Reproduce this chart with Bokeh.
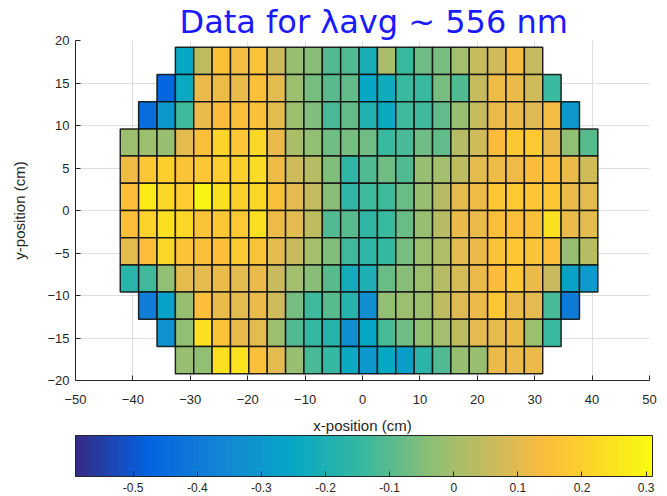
from bokeh.plotting import figure
from bokeh.models import (LinearColorMapper, ColorBar, FixedTicker, Range1d, Title,
                          ColumnDataSource, CustomJSTickFormatter)
from bokeh.embed import file_html
from bokeh.resources import INLINE

# ---- data -------------------------------------------------------------
# column centres (cm) and row centres (cm) of the measurement grid
x_cols = [-40.6, -37.4, -34.2, -31.0, -27.8, -24.6, -21.4, -18.2, -15.0, -11.8,
          -8.6, -5.4, -2.2, 1.0, 4.2, 7.4, 10.6, 13.8, 17.0, 20.2,
          23.4, 26.6, 29.8, 33.0, 36.2, 39.4]
y_rows = [17.6, 14.4, 11.2, 8.0, 4.8, 1.6, -1.6, -4.8, -8.0, -11.2, -14.4, -17.6]
cell_size = 3.2

N = None
row_p17_6 = [N, N, N, -0.25, 0.04, 0.15, 0.13, 0.16, 0.06, -0.02, -0.04, -0.11, -0.11,
             -0.21, 0.01, -0.14, -0.07, -0.06, 0.00, 0.05, 0.07, 0.13, 0.05, N, N, N]
row_p14_4 = [N, N, -0.46, -0.24, 0.11, 0.12, 0.11, 0.15, 0.10, -0.01, -0.06, -0.10, -0.09,
             -0.25, -0.23, -0.14, -0.14, -0.06, -0.11, 0.05, 0.12, 0.11, 0.07, -0.14, N, N]
row_p11_2 = [N, -0.44, -0.30, -0.13, 0.11, 0.14, 0.15, 0.15, 0.10, -0.01, -0.05, -0.12, -0.09,
             -0.19, -0.24, -0.13, -0.13, -0.09, -0.02, 0.05, 0.11, 0.11, 0.09, 0.13, -0.30, N]
row_p8_0 = [-0.01, -0.01, -0.02, 0.10, 0.15, 0.21, 0.17, 0.22, 0.11, 0.01, -0.03, -0.07, -0.06,
            -0.07, -0.14, -0.12, -0.07, -0.09, 0.03, 0.07, 0.14, 0.18, 0.18, 0.11, -0.03, -0.10]
row_p4_8 = [0.12, 0.17, 0.20, 0.16, 0.17, 0.19, 0.20, 0.23, 0.12, 0.07, 0.03, -0.05, -0.16,
            -0.11, -0.07, -0.11, -0.02, 0.00, 0.04, 0.10, 0.12, 0.12, 0.14, 0.15, 0.11, 0.07]
row_p1_6 = [0.15, 0.27, 0.22, 0.19, 0.29, 0.24, 0.20, 0.22, 0.15, 0.10, 0.05, -0.04, -0.16,
            -0.13, -0.13, -0.08, -0.02, 0.03, 0.10, 0.12, 0.17, 0.18, 0.17, 0.17, 0.11, 0.10]
row_m1_6 = [0.15, 0.21, 0.24, 0.22, 0.16, 0.17, 0.18, 0.24, 0.12, 0.10, 0.04, -0.11, -0.10,
            -0.16, -0.14, -0.08, -0.02, 0.03, 0.11, 0.11, 0.15, 0.15, 0.15, 0.24, 0.11, 0.10]
row_m4_8 = [0.10, 0.15, 0.22, 0.16, 0.15, 0.15, 0.18, 0.16, 0.10, 0.06, 0.00, -0.05, -0.13,
            -0.16, -0.15, -0.06, -0.01, 0.02, 0.10, 0.11, 0.16, 0.17, 0.16, 0.15, -0.02, 0.03]
row_m8_0 = [-0.17, -0.13, -0.03, 0.10, 0.10, 0.11, 0.10, 0.11, 0.06, 0.00, -0.04, -0.10, -0.22,
            -0.20, -0.08, -0.04, -0.01, 0.03, 0.08, 0.11, 0.14, 0.17, 0.11, 0.06, -0.27, -0.29]
row_m11_2 = [N, -0.39, -0.27, -0.02, 0.15, 0.11, 0.10, 0.11, 0.07, -0.06, -0.13, -0.10, -0.18,
             -0.33, -0.03, -0.01, -0.01, 0.04, 0.09, 0.11, 0.17, 0.11, 0.10, -0.12, -0.40, N]
row_m14_4 = [N, N, -0.32, -0.03, 0.24, 0.16, 0.11, 0.10, -0.01, -0.11, -0.15, -0.18, -0.33,
             -0.25, -0.12, -0.07, -0.03, 0.00, 0.04, 0.10, 0.10, 0.11, -0.01, -0.14, N, N]
row_m17_6 = [N, N, N, -0.02, -0.03, 0.24, 0.25, 0.15, 0.10, -0.02, -0.12, -0.15, -0.24,
             -0.30, -0.25, -0.28, -0.17, -0.11, -0.02, -0.02, 0.11, 0.11, 0.11, N, N, N]

rows = [row_p17_6, row_p14_4, row_p11_2, row_p8_0, row_p4_8, row_p1_6,
        row_m1_6, row_m4_8, row_m8_0, row_m11_2, row_m14_4, row_m17_6]

color_low, color_high = -0.59, 0.31
x_ticks = [-50, -40, -30, -20, -10, 0, 10, 20, 30, 40, 50]
y_ticks = [-20, -15, -10, -5, 0, 5, 10, 15, 20]
cb_ticks = [-0.5, -0.4, -0.3, -0.2, -0.1, 0.0, 0.1, 0.2, 0.3]
title_text = "Data for \u03bbavg ~ 556 nm"

# ---- parula-like palette --------------------------------------------------
anchors = [(0.0, "#352a87"), (0.125, "#0363e1"), (0.25, "#1485d4"), (0.375, "#06a7c6"),
           (0.5, "#38b99e"), (0.625, "#92bf73"), (0.75, "#d9ba56"), (0.8125, "#fbbc3d"),
           (0.875, "#fcce2e"), (1.0, "#f9fb0e")]


def _rgb(h):
    return tuple(int(h[i:i + 2], 16) for i in (1, 3, 5))


palette = []
for k in range(256):
    t = k / 255
    for (t0, c0), (t1, c1) in zip(anchors[:-1], anchors[1:]):
        if t0 <= t <= t1:
            f = (t - t0) / (t1 - t0)
            a, b = _rgb(c0), _rgb(c1)
            palette.append("#%02x%02x%02x" % tuple(round(a[j] + f * (b[j] - a[j])) for j in range(3)))
            break

xs, ys, vals = [], [], []
for yc, row in zip(y_rows, rows):
    for xc, v in zip(x_cols, row):
        if v is not None:
            xs.append(xc)
            ys.append(yc)
            vals.append(v)
src = ColumnDataSource(dict(x=xs, y=ys, v=vals))

mapper = LinearColorMapper(palette=palette, low=color_low, high=color_high)

# ---- figure -------------------------------------------------------------
TXT = "#262626"
p = figure(width=667, height=496, output_backend="svg", toolbar_location=None,
           x_range=Range1d(-50, 50), y_range=Range1d(-20, 20),
           min_border_left=75, min_border_right=18, min_border_top=38, min_border_bottom=116)
p.outline_line_color = None
p.background_fill_color = "white"

p.title = Title(text=title_text, align="left", offset=104, standoff=0,
                text_font="DejaVu Sans", text_font_size="32px", text_font_style="normal",
                text_color="#1a1aff", vertical_align="bottom")

p.rect(x="x", y="y", width=cell_size, height=cell_size, source=src,
       fill_color={"field": "v", "transform": mapper},
       line_color="#111111", line_width=1.5, line_alpha=0.9)

for ax, ticks, lab in ((p.xaxis[0], x_ticks, "x-position (cm)"), (p.yaxis[0], y_ticks, "y-position (cm)")):
    ax.ticker = FixedTicker(ticks=ticks)
    ax.axis_label = lab
    ax.axis_line_color = TXT
    ax.major_tick_line_color = TXT
    ax.major_tick_in = 5
    ax.major_tick_out = 0
    ax.minor_tick_line_color = None
    ax.major_label_text_font = "Liberation Sans"
    ax.major_label_text_font_size = "13px"
    ax.major_label_text_color = TXT
    ax.axis_label_text_font = "Liberation Sans"
    ax.axis_label_text_font_size = "15px"
    ax.axis_label_text_font_style = "normal"
    ax.axis_label_text_color = TXT
p.xaxis.major_label_standoff = 14
p.xaxis.axis_label_standoff = 10
p.yaxis.major_label_standoff = 6
p.yaxis.axis_label_standoff = 16

p.xgrid.ticker = FixedTicker(ticks=x_ticks)
p.ygrid.ticker = FixedTicker(ticks=y_ticks)
p.grid.grid_line_color = "#dedede"
p.grid.grid_line_width = 1

cbar = ColorBar(color_mapper=mapper, orientation="horizontal", location=(0, -114),
                width=577, height=41, padding=0, margin=0,
                ticker=FixedTicker(ticks=cb_ticks),
                formatter=CustomJSTickFormatter(code="return Math.abs(tick) < 1e-9 ? '0' : tick.toFixed(1);"),
                major_label_text_font="Liberation Sans", major_label_text_font_size="12px",
                major_label_text_color=TXT, label_standoff=6,
                major_tick_line_color=TXT, major_tick_in=5, major_tick_out=0,
                minor_tick_line_color=None,
                bar_line_color=TXT, bar_line_width=1,
                border_line_color=None, background_fill_color=None)
p.add_layout(cbar, "center")

open("out.html", "w").write(file_html(p, INLINE))
